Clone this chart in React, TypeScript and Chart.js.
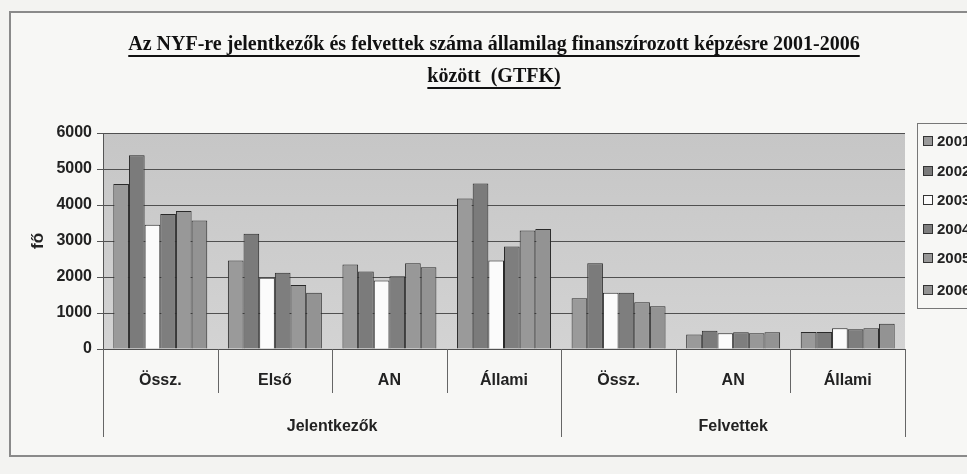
import React, { useEffect, useRef } from "react";
import { Chart, registerables } from "chart.js";

Chart.register(...registerables);

const categories = ["Össz.", "Első", "AN", "Állami", "Össz.", "AN", "Állami"];
const groups = [
  { label: "Jelentkezők", from: 0, to: 3 },
  { label: "Felvettek", from: 4, to: 6 },
];
const years = ["2001", "2002", "2003", "2004", "2005", "2006"];
const s2001 = [4580, 2460, 2350, 4180, 1410, 400, 475];
const s2002 = [5380, 3200, 2150, 4600, 2380, 510, 475];
const s2003 = [3450, 1980, 1900, 2460, 1560, 440, 575];
const s2004 = [3750, 2120, 2020, 2850, 1560, 465, 550];
const s2005 = [3830, 1780, 2380, 3290, 1300, 435, 575];
const s2006 = [3570, 1560, 2270, 3330, 1185, 465, 700];
const seriesValues = [s2001, s2002, s2003, s2004, s2005, s2006];
const yTicks = [0, 1000, 2000, 3000, 4000, 5000, 6000];
const titleLines = [
  "Az NYF-re jelentkezők és felvettek száma államilag finanszírozott képzésre 2001-2006",
  "között  (GTFK)",
];
const yTitle = "fő";

const colors = ["#9a9a9a", "#7b7b7b", "#fbfbfb", "#7e7e7e", "#989898", "#939393"];
const SANS = "'Liberation Sans', Arial, sans-serif";
const SERIF = "'Liberation Serif', 'Times New Roman', serif";

const decorPlugin = {
  id: "decor",
  beforeDraw(chart: any) {
    const { ctx, chartArea: a, width, height } = chart;
    ctx.save();
    ctx.fillStyle = "#f3f3f1";
    ctx.fillRect(0, 0, width, height);
    ctx.fillStyle = "#f7f7f5";
    ctx.fillRect(10, 12, width, 444);
    ctx.strokeStyle = "#8a8a8a";
    ctx.lineWidth = 2;
    ctx.strokeRect(10, 12, width + 10, 444);
    const g = ctx.createLinearGradient(0, a.top, 0, a.bottom);
    g.addColorStop(0, "#c6c6c6");
    g.addColorStop(1, "#d3d3d3");
    ctx.fillStyle = g;
    ctx.fillRect(a.left, a.top, a.right - a.left, a.bottom - a.top);
    ctx.restore();
  },
  afterDraw(chart: any) {
    const { ctx, chartArea: a } = chart;
    const xs = chart.scales.x;
    ctx.save();
    // title
    ctx.fillStyle = "#111";
    ctx.strokeStyle = "#111";
    ctx.font = `bold 20px ${SERIF}`;
    ctx.textAlign = "center";
    ctx.textBaseline = "middle";
    const cx = 494;
    const tys = [45, 77];
    titleLines.forEach((t, i) => {
      ctx.fillText(t, cx, tys[i]);
      const w = ctx.measureText(t).width;
      ctx.lineWidth = 1.8;
      ctx.beginPath();
      ctx.moveTo(cx - w / 2, tys[i] + 11);
      ctx.lineTo(cx + w / 2, tys[i] + 11);
      ctx.stroke();
    });
    // y title
    ctx.font = `bold 17px ${SANS}`;
    ctx.fillStyle = "#222";
    ctx.translate(38, (a.top + a.bottom) / 2);
    ctx.rotate(-Math.PI / 2);
    ctx.fillText(yTitle, 0, 0);
    ctx.setTransform(1, 0, 0, 1, 0, 0);
    // axis line
    ctx.strokeStyle = "#555";
    ctx.lineWidth = 1;
    ctx.beginPath();
    ctx.moveTo(a.left + 0.5, a.top);
    ctx.lineTo(a.left + 0.5, a.bottom);
    ctx.stroke();
    // x dividers
    const n = categories.length;
    const half = (xs.getPixelForValue(1) - xs.getPixelForValue(0)) / 2;
    ctx.strokeStyle = "#666";
    for (let i = 0; i <= n; i++) {
      const xr = i === n ? xs.getPixelForValue(n - 1) + half : xs.getPixelForValue(i) - half;
      const x = Math.round(xr) + 0.5;
      const isOuter = i === 0 || i === n || groups.some((gr) => gr.from === i);
      ctx.beginPath();
      ctx.moveTo(x, a.bottom);
      ctx.lineTo(x, isOuter ? 437 : 393);
      ctx.stroke();
    }
    // category labels
    ctx.fillStyle = "#222";
    ctx.font = `bold 16px ${SANS}`;
    categories.forEach((c, i) => {
      ctx.fillText(c, xs.getPixelForValue(i), 381);
    });
    groups.forEach((gr) => {
      const x0 = xs.getPixelForValue(gr.from) - half;
      const x1 = xs.getPixelForValue(gr.to) + half;
      ctx.fillText(gr.label, (x0 + x1) / 2, 427);
    });
    // legend
    const lx = 917;
    ctx.fillStyle = "#f7f7f5";
    ctx.fillRect(lx, 123, 80, 185);
    ctx.strokeStyle = "#777";
    ctx.strokeRect(lx + 0.5, 123.5, 80, 185);
    const ly = [141, 171, 200, 229, 258, 290];
    ctx.textAlign = "left";
    ctx.font = `bold 15px ${SANS}`;
    chart.data.datasets.forEach((ds: any, i: number) => {
      ctx.fillStyle = ds.backgroundColor;
      ctx.fillRect(lx + 6.5, ly[i] - 4.5, 9, 9);
      ctx.strokeStyle = "#333";
      ctx.strokeRect(lx + 6.5, ly[i] - 4.5, 9, 9);
      ctx.fillStyle = "#222";
      ctx.fillText(ds.label, lx + 20, ly[i] + 1);
    });
    ctx.restore();
  },
};

export default function App() {
  const ref = useRef<HTMLCanvasElement>(null);
  useEffect(() => {
    document.body.style.margin = "0";
    const chart = new Chart(ref.current!, {
      type: "bar",
      data: {
        labels: categories,
        datasets: years.map((y, i) => ({
          label: y,
          data: seriesValues[i],
          backgroundColor: colors[i],
          borderColor: "#2a2a2a",
          borderWidth: 1,
          categoryPercentage: 0.82,
          barPercentage: 1,
        })),
      },
      options: {
        animation: false,
        responsive: false,
        layout: { padding: { left: 10, top: 133, right: 62, bottom: 125 } },
        plugins: { legend: { display: false }, title: { display: false }, tooltip: { enabled: false } },
        scales: {
          x: { display: false, offset: true },
          y: {
            min: 0,
            max: 6000,
            afterFit: (s: any) => {
              s.width = 93;
            },
            afterBuildTicks: (s: any) => {
              s.ticks = yTicks.map((v) => ({ value: v }));
            },
            border: { display: false },
            grid: { color: "#505050", lineWidth: 1, tickLength: 6, tickColor: "#555", drawTicks: true },
            ticks: {
              padding: 5,
              color: "#222",
              font: { family: SANS, weight: "bold", size: 16 },
              callback: (v: any) => String(v),
            },
          },
        },
      },
      plugins: [decorPlugin],
    });
    return () => chart.destroy();
  }, []);
  return <canvas ref={ref} width={967} height={474} style={{ display: "block" }} />;
}
